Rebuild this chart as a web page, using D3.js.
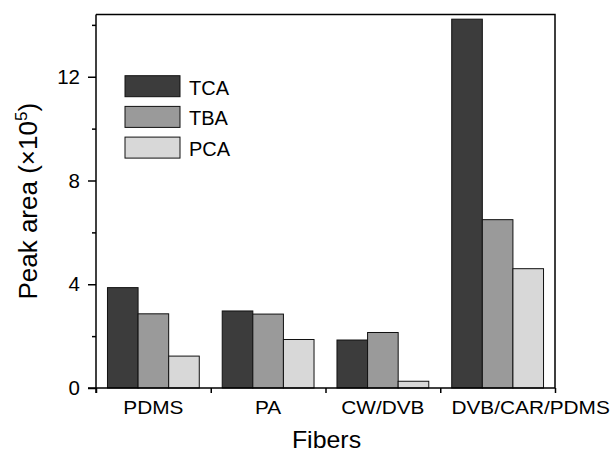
<!DOCTYPE html>
<html>
<head>
<meta charset="utf-8">
<script src="https://cdn.jsdelivr.net/npm/d3@7"></script>
<style>
  html, body { margin: 0; padding: 0; background: #fff; }
  svg { display: block; font-family: "Liberation Sans", Arial, Helvetica, sans-serif; }
</style>
</head>
<body>
<svg id="chart" width="613" height="451"></svg>
<script>
const categories = ["PDMS", "PA", "CW/DVB", "DVB/CAR/PDMS"];
const seriesNames = ["TCA", "TBA", "PCA"];
const TCA = [3.87, 2.97, 1.85, 14.22];
const TBA = [2.86, 2.85, 2.14, 6.49];
const PCA = [1.23, 1.87, 0.26, 4.60];
const seriesValues = [TCA, TBA, PCA];
const seriesColors = ["#3c3c3c", "#9a9a9a", "#d8d8d8"];
const majorTicks = [0, 4, 8, 12];
const minorTicks = [2, 6, 10, 14];

(function () {
const svg = d3.select("#chart");
const pl = 96, pr = 555, pt = 14.5, pb = 388;

const x = d3.scaleBand().domain(categories).range([pl, pr]).paddingInner(0).paddingOuter(0);
const xs = d3.scaleBand().domain(seriesNames).range([0, x.bandwidth() * 0.8]);
const y = d3.scaleLinear().domain([0, 14.4]).range([pb, pt]);

// bars
const rows = categories.map((c, i) => ({ cat: c, vals: seriesNames.map((s, j) => ({ s, v: seriesValues[j][i], color: seriesColors[j] })) }));
const g = svg.append("g");
g.selectAll("g.grp").data(rows).join("g")
  .attr("class", "grp")
  .attr("transform", d => `translate(${x(d.cat) + x.bandwidth() * 0.1},0)`)
  .selectAll("rect").data(d => d.vals).join("rect")
  .attr("x", d => xs(d.s))
  .attr("width", xs.bandwidth())
  .attr("y", d => y(d.v))
  .attr("height", d => y(0) - y(d.v))
  .attr("fill", d => d.color)
  .attr("stroke", "#111")
  .attr("stroke-width", 1);

// frame
svg.append("path")
  .attr("d", `M${pl},${pt}H${pr}V${pb}`)
  .attr("fill", "none").attr("stroke", "#000").attr("stroke-width", 1.5);

// y axis major
const yAxis = svg.append("g").attr("transform", `translate(${pl},0)`)
  .call(d3.axisLeft(y).tickValues(majorTicks).tickSize(8).tickPadding(8).tickFormat(d3.format("d")));
yAxis.selectAll("text").attr("font-size", 20.5).attr("fill", "#000").attr("font-family", null);
// y axis minor
svg.append("g").attr("transform", `translate(${pl},0)`)
  .call(d3.axisLeft(y).tickValues(minorTicks).tickSize(4).tickFormat(""))
  .call(s => s.select(".domain").remove());

// x axis boundary ticks
const xb = d3.scaleLinear().domain([0, categories.length]).range([pl, pr]);
svg.append("g").attr("transform", `translate(0,${pb})`)
  .call(d3.axisBottom(xb).tickValues(d3.range(categories.length + 1)).tickSize(5).tickFormat(""))
  .call(s => s.select(".domain").remove());

// x axis category labels
const xAxis = svg.append("g").attr("transform", `translate(0,${pb})`)
  .call(d3.axisBottom(x).tickSize(0).tickPadding(13.5));
xAxis.select(".domain").attr("stroke-width", 1.5).attr("d", `M${pl - 8},0H${pr}`);
xAxis.selectAll("text")
  .attr("font-size", 17.5).attr("fill", "#000").attr("font-family", null)
  .attr("transform", (d, i) => `translate(${i === categories.length - 1 ? 33 : 0},0) scale(1.19,1)`);

svg.selectAll(".domain").attr("stroke", "#000");
svg.selectAll(".tick line").attr("stroke", "#000").attr("stroke-width", 1.5);
yAxis.select(".domain").attr("stroke-width", 1.5).attr("d", `M0,${pt}V${pb + 5}`);

// axis titles
svg.append("text")
  .attr("transform", `translate(${(pl + pr) / 2 + 1},447.5) scale(1.07,1)`)
  .attr("text-anchor", "middle").attr("font-size", 23.3).attr("fill", "#000")
  .text("Fibers");

const yt = svg.append("text")
  .attr("transform", `translate(36.5,${(pt + pb) / 2}) rotate(-90)`)
  .attr("text-anchor", "middle").attr("font-size", 26).attr("fill", "#000");
yt.append("tspan").text("Peak area (×10");
yt.append("tspan").attr("font-size", 17).attr("dy", -10).text("5");
yt.append("tspan").attr("dy", 10).text(")");

// legend
const lg = svg.append("g").attr("transform", "translate(125,75.7)");
const li = lg.selectAll("g").data(seriesNames).join("g")
  .attr("transform", (d, i) => `translate(0,${i * 30.7})`);
li.append("rect").attr("width", 55).attr("height", 21)
  .attr("fill", (d, i) => seriesColors[i]).attr("stroke", "#111").attr("stroke-width", 1);
li.append("text").attr("x", 64).attr("y", 19)
  .attr("font-size", 20).attr("fill", "#000").text(d => d);
})();
</script>
</body>
</html>
